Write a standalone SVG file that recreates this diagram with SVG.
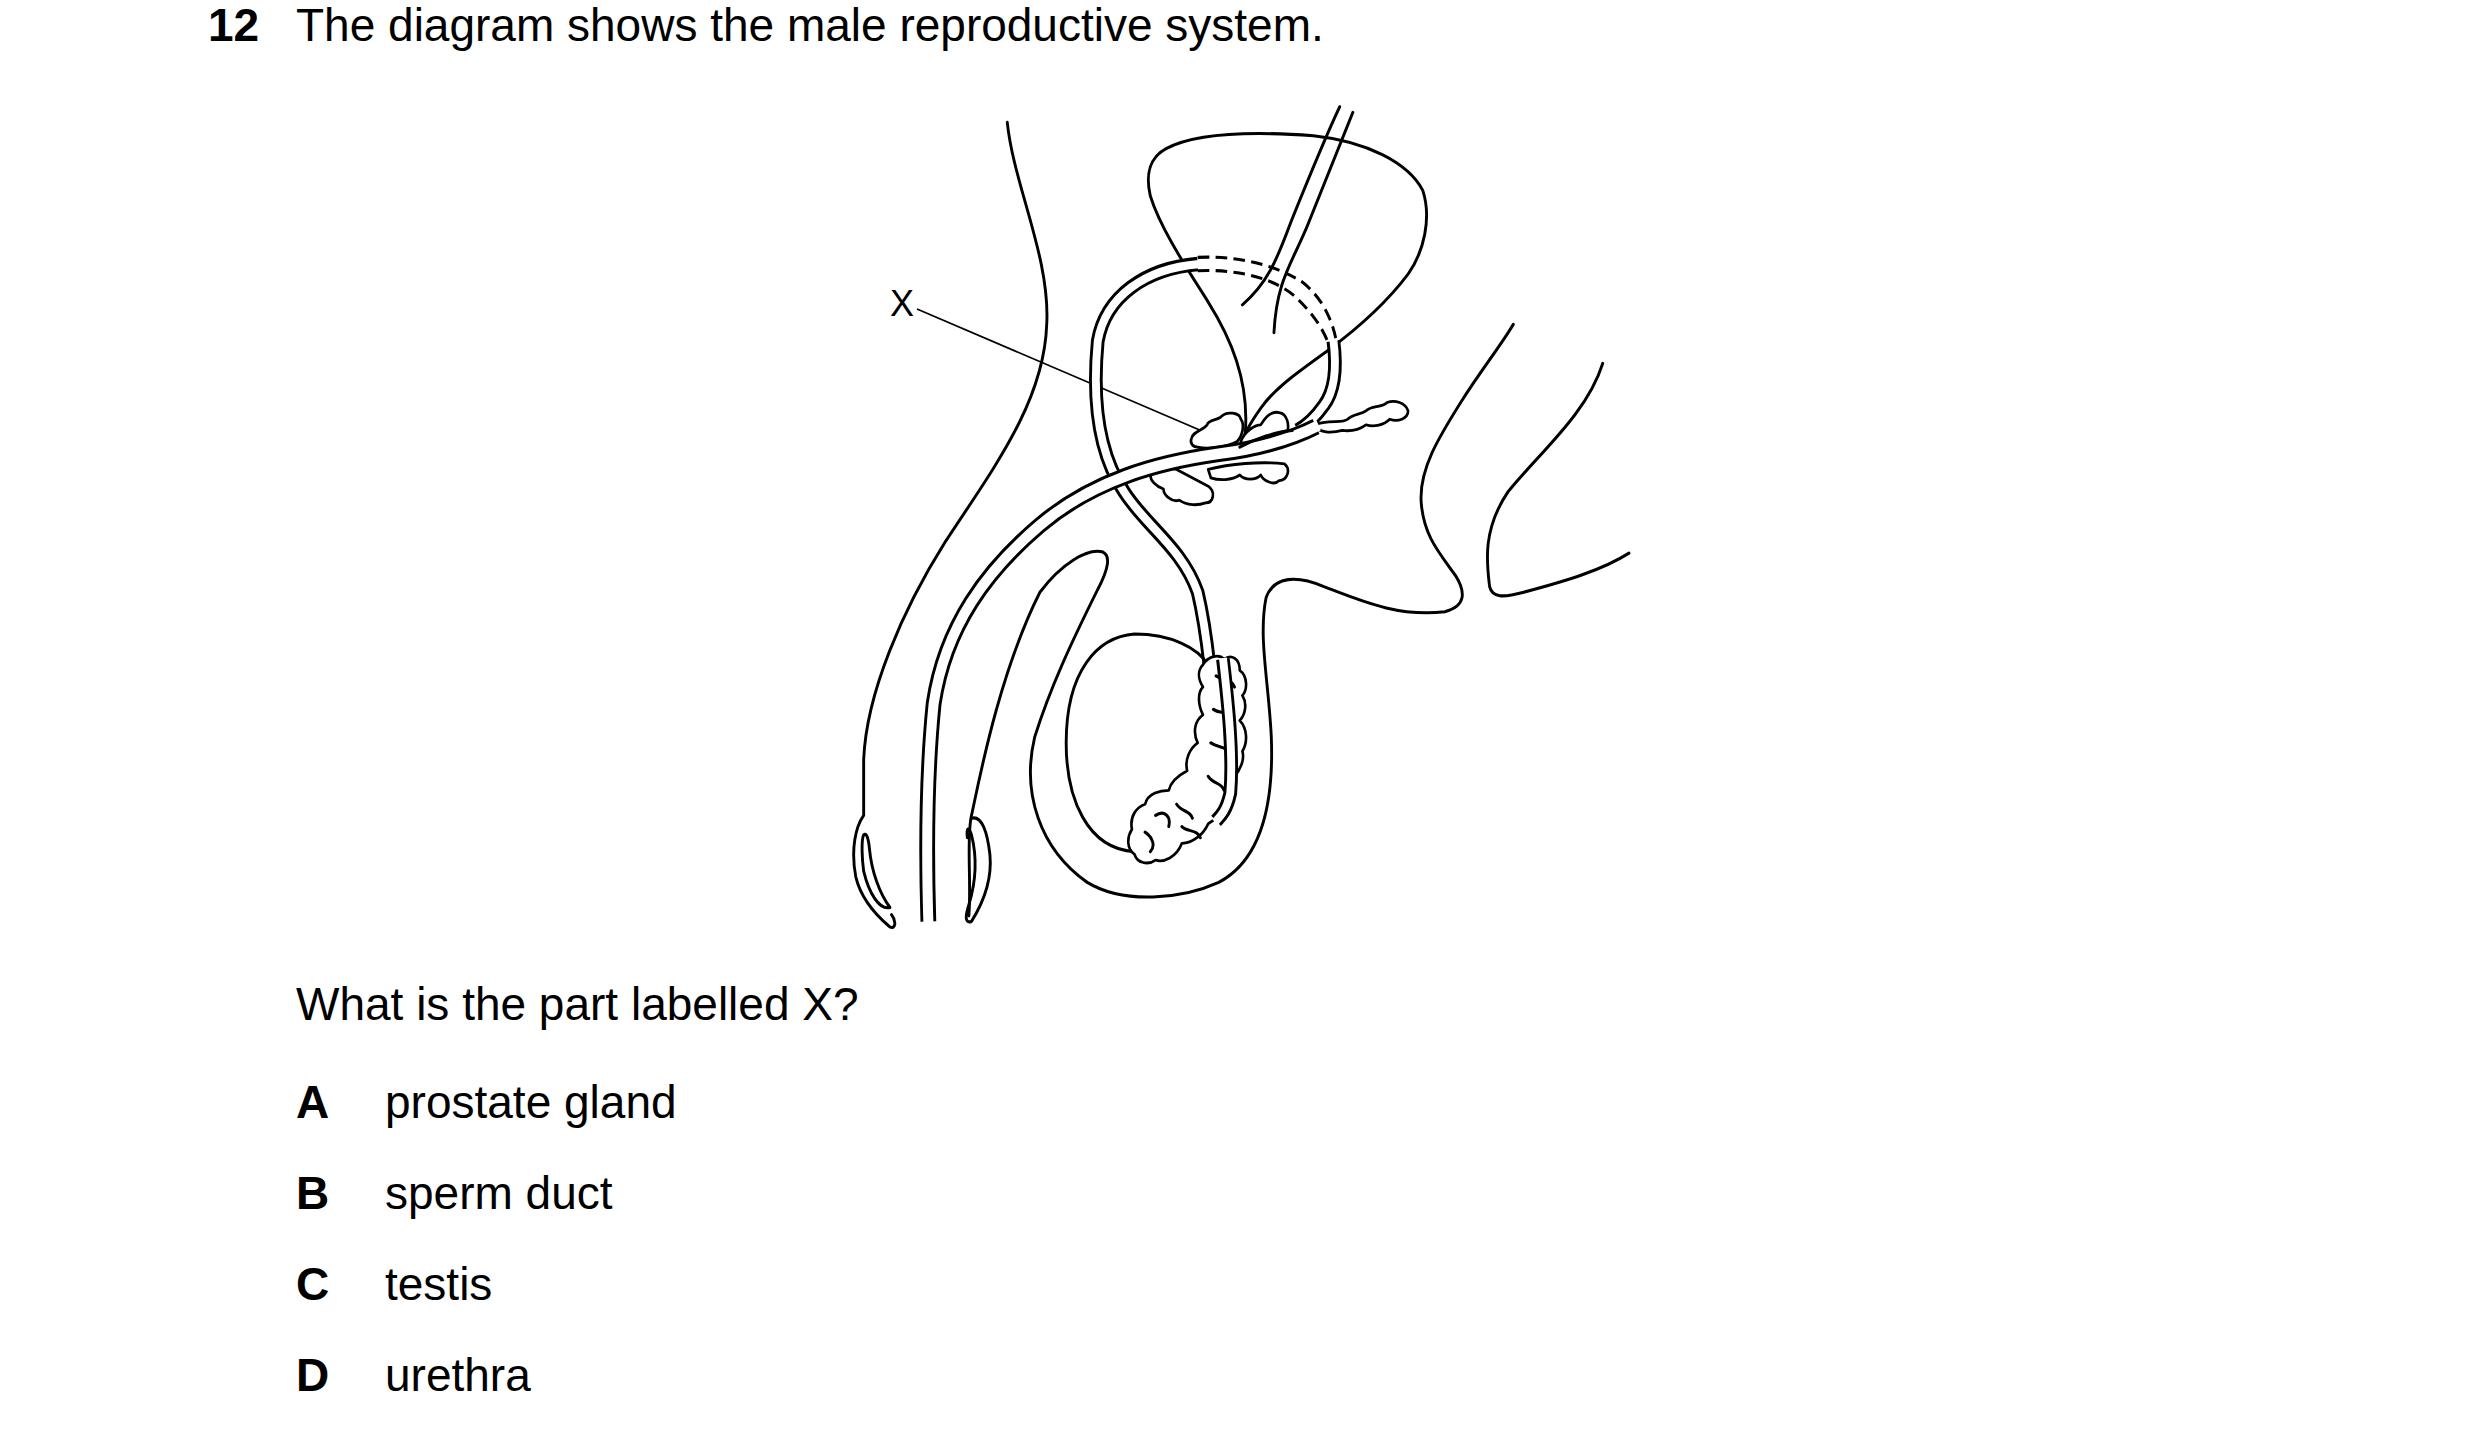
<svg xmlns="http://www.w3.org/2000/svg" width="2480" height="1429" viewBox="0 0 2480 1429">
<style>
text{font-family:"Liberation Sans",Arial,sans-serif;font-size:46px;fill:#000}
.b{font-weight:bold}
.l{fill:none;stroke:#000;stroke-width:5.5;stroke-linecap:round;stroke-linejoin:round}
.tb{fill:none;stroke:#000;stroke-linecap:butt}
.tw{fill:none;stroke:#fff;stroke-linecap:butt}
.d{fill:none;stroke:#000;stroke-width:5.5;stroke-dasharray:22 12}
.g{fill:#fff;stroke:#000;stroke-width:5;stroke-linejoin:round}
</style>
<rect width="2480" height="1429" fill="#fff"/>
<g id="question">
<text x="208" y="41" class="b">12</text>
<text x="296" y="41">The diagram shows the male reproductive system.</text>
<text x="296" y="1020">What is the part labelled X?</text>
<text x="296" y="1118" class="b">A</text><text x="385" y="1118">prostate gland</text>
<text x="296" y="1209" class="b">B</text><text x="385" y="1209">sperm duct</text>
<text x="296" y="1300" class="b">C</text><text x="385" y="1300">testis</text>
<text x="296" y="1391" class="b">D</text><text x="385" y="1391">urethra</text>
</g>
<g id="label-x">
<text x="890" y="316" style="font-size:36px">X</text>
<line x1="917" y1="309" x2="1216" y2="437" stroke="#000" stroke-width="1.8"/>
</g>
<g id="diagram" transform="translate(840,90) scale(0.526,0.558)">
<g id="body">
<path class="l" d="M318,58 C330,170 400,300 393,420 C388,560 290,680 200,810 C120,930 50,1080 45,1200 L45,1300 C30,1320 20,1360 30,1410 C40,1450 70,1480 95,1500 C105,1505 108,1490 98,1478"/>
<path class="l" d="M95,1465 C75,1440 60,1400 56,1360 C54,1340 50,1330 45,1335 C40,1345 42,1380 45,1400 C55,1440 75,1470 95,1465"/>
<path class="l" d="M245,1480 C250,1420 240,1340 250,1300 C262,1250 300,1050 380,900 C420,850 470,820 500,828 C515,835 510,860 490,895 C440,990 400,1070 370,1160 C345,1260 380,1360 470,1420 C540,1460 650,1450 720,1420 C800,1380 825,1280 820,1160 C815,1060 795,980 810,910 C825,870 870,870 920,890 C990,915 1060,945 1150,935 C1190,925 1190,900 1170,870 C1140,830 1110,800 1105,740 C1100,680 1140,620 1180,560 C1220,500 1255,460 1280,420"/>
<path class="l" d="M250,1305 C270,1300 280,1330 285,1370 C290,1420 270,1460 250,1490 C235,1495 240,1475 245,1460 C258,1420 262,1380 250,1335 C245,1320 240,1320 242,1340"/>
<path class="l" d="M1450,490 C1420,580 1330,650 1270,720 C1220,790 1230,850 1235,890 C1240,910 1260,910 1300,900 C1380,880 1450,860 1500,830"/>
</g>
<g id="bladder">
<path class="l" d="M770,620 C780,520 740,440 700,380 C660,320 610,250 590,190 C580,150 590,120 620,105 C680,75 800,75 900,82 C1000,92 1080,130 1108,180 C1125,230 1110,290 1080,330 C1040,380 980,430 930,465 C880,500 830,530 800,570 C785,590 772,610 770,620"/>
<path class="l" d="M950,30 C920,90 890,160 860,230 C835,290 820,340 765,385"/>
<path class="l" d="M975,40 C950,100 920,170 890,240 C860,310 830,340 825,435"/>
</g>
<g id="ducts">
<path class="tb" stroke-width="26" d="M720,1270 C715,1150 705,1000 680,900 C650,820 580,780 540,720 C490,650 480,550 490,450 C505,370 580,320 680,312"/>
<path class="tw" stroke-width="15" d="M720,1272 C715,1150 705,1000 680,900 C650,820 580,780 540,720 C490,650 480,550 490,450 C505,370 580,320 682,312"/>
<path class="d" d="M680,300 C770,296 840,320 880,345 C920,375 940,420 945,460"/>
<path class="d" d="M680,324 C760,320 830,340 865,370 C905,405 925,440 930,460"/>
<path class="tb" stroke-width="26" d="M938,450 C945,500 940,540 920,565 C905,585 890,600 870,610"/>
<path class="tw" stroke-width="15" d="M938,448 C945,500 940,540 920,565 C905,585 890,600 870,610"/>
</g>
<g id="glands">
<path class="g" d="M590,690 C600,680 620,675 640,680 C660,690 680,700 700,710 C715,720 710,740 695,740 C680,745 660,745 645,735 C630,740 615,725 615,715 C600,710 590,700 590,690 Z"/>
<path class="g" d="M700,680 C740,670 800,665 845,670 C858,680 850,700 835,700 C825,710 805,700 800,690 C790,700 770,700 760,690 C745,700 720,700 705,695 Z"/>
<path class="g" d="M668,625 C670,612 690,610 698,600 C700,590 720,592 725,585 C735,575 760,578 762,590 C770,600 765,620 755,630 C735,640 700,645 680,640 C670,640 665,632 668,625 Z"/>
<path class="g" d="M762,630 C770,610 790,600 800,600 C810,585 820,575 835,578 C850,580 855,600 850,615 C840,628 810,635 790,636 C775,638 763,637 762,630 Z"/>
<path class="g" d="M900,600 C930,590 955,598 965,590 C975,580 990,582 1000,575 C1010,565 1030,570 1040,560 C1055,555 1075,560 1080,575 C1080,590 1060,595 1045,590 C1035,600 1015,605 1000,600 C985,610 970,612 955,610 C935,615 910,615 900,600 Z"/>
</g>
<g id="urethra">
<path class="tb" stroke-width="30" d="M905,603 C860,625 800,642 720,652 C600,668 480,700 380,780 C280,860 200,960 178,1100 C162,1250 165,1400 168,1490"/>
<path class="tw" stroke-width="19" d="M910,601 C860,625 800,642 720,652 C600,668 480,700 380,780 C280,860 200,960 178,1100 C162,1250 165,1400 168,1492"/>
<path class="l" d="M760,640 C790,625 830,612 860,610"/>
</g>
<g id="testis">
<path class="l" d="M560,1365 C470,1360 430,1270 430,1170 C430,1040 490,980 560,975 C630,975 680,1000 700,1030"/>
<path class="g" d="M690,1030 C700,1015 720,1010 730,1020 C745,1010 760,1020 760,1040 C775,1050 775,1075 765,1085 C775,1100 770,1120 760,1130 C775,1145 775,1170 765,1185 C770,1200 760,1220 750,1230 C755,1250 740,1270 730,1275 C730,1295 710,1310 700,1315 C690,1335 670,1350 650,1350 C640,1375 615,1385 600,1380 C585,1390 565,1385 560,1370 C545,1360 545,1340 555,1325 C550,1300 565,1285 580,1280 C585,1260 610,1255 625,1255 C630,1235 650,1225 660,1220 C655,1200 665,1180 680,1170 C670,1150 675,1130 690,1120 C680,1100 680,1080 690,1070 C680,1055 680,1040 690,1030 Z"/>
<path class="l" d="M600,1300 C615,1290 630,1300 625,1320 M640,1280 C650,1295 665,1290 670,1305 M700,1230 C710,1245 725,1240 730,1255 M705,1170 C720,1180 735,1175 740,1190 M710,1110 C725,1120 740,1110 745,1125 M715,1050 C730,1060 745,1055 750,1070 M580,1330 C595,1340 600,1355 590,1365 M650,1320 C660,1330 680,1325 685,1340"/>
<path class="tb" stroke-width="26" d="M728,1020 C738,1100 748,1190 742,1260 C735,1290 725,1300 715,1310"/>
<path class="tw" stroke-width="15" d="M728,1018 C738,1100 748,1190 742,1260 C735,1290 725,1300 713,1312"/>
</g>
</g>
</svg>
